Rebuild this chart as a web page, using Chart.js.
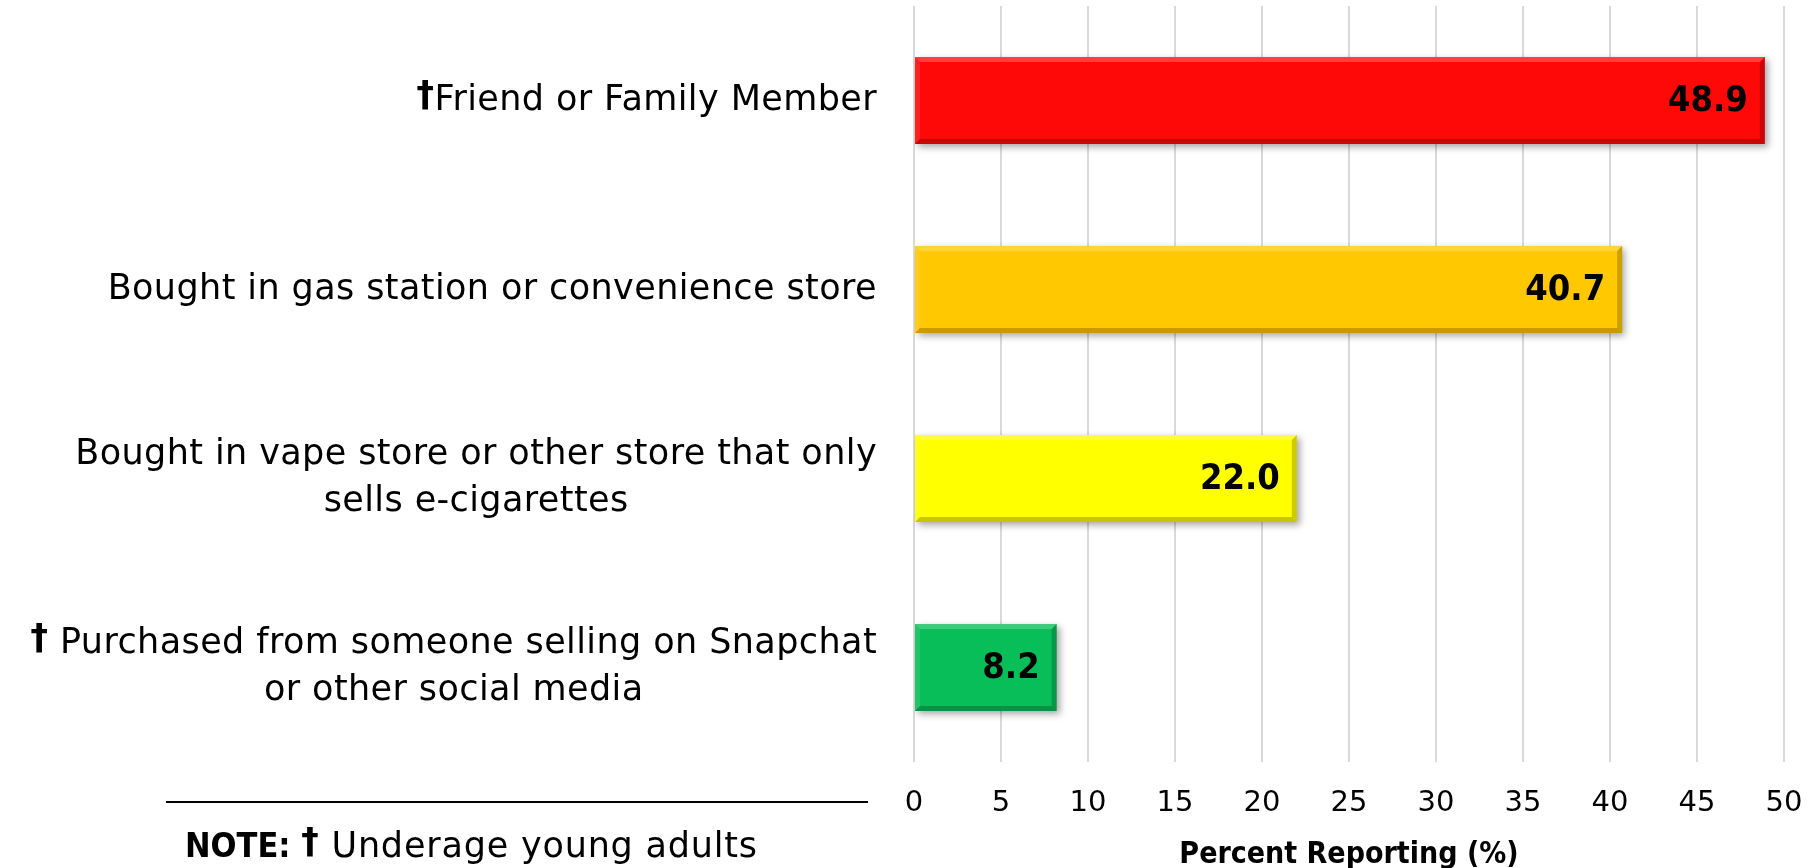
<!DOCTYPE html>
<html>
<head>
<meta charset="utf-8">
<title>Where e-cigarettes were obtained</title>
<script src="https://cdn.jsdelivr.net/npm/chart.js@4"></script>
<style>
  html, body { margin: 0; padding: 0; background: #fff; }
  canvas { display: block; }
</style>
</head>
<body>
<canvas id="sourceChart" width="1815" height="868"></canvas>
<script>
// category labels, one array entry per text line
const sourceLabels = [
    ['†Friend or Family Member'],
    ['Bought in gas station or convenience store'],
    ['Bought in vape store or other store that only', 'sells e-cigarettes'],
    ['† Purchased from someone selling on Snapchat', 'or other social media']
];
const percentReporting = [48.9, 40.7, 22.0, 8.2];
const barColors = ['#FF0808', '#FFC800', '#FFFF00', '#08BE58'];
const xTickValues = [0, 5, 10, 15, 20, 25, 30, 35, 40, 45, 50];

const labelFont = '35px "DejaVu Sans", sans-serif';
const boldFamily = '"Liberation Sans Narrow", "DejaVu Sans Condensed", "Liberation Sans", sans-serif';

// drop shadow under the bars
const barShadow = {
    id: 'barShadow',
    beforeDatasetsDraw(chart) {
        const ctx = chart.ctx;
        ctx.save();
        ctx.shadowColor = 'rgba(0,0,0,0.35)';
        ctx.shadowBlur = 7;
        ctx.shadowOffsetX = 3;
        ctx.shadowOffsetY = 3;
    },
    afterDatasetsDraw(chart) {
        chart.ctx.restore();
    }
};

// bevelled edges plus the value printed inside the end of each bar
const barDecor = {
    id: 'barDecor',
    afterDatasetsDraw(chart) {
        const ctx = chart.ctx;
        const meta = chart.getDatasetMeta(0);
        const b = 5;
        ctx.save();
        meta.data.forEach((bar, i) => {
            const l = Math.min(bar.base, bar.x);
            const r = Math.max(bar.base, bar.x);
            const t = bar.y - bar.height / 2;
            const btm = bar.y + bar.height / 2;
            const quad = (pts, fill) => {
                ctx.beginPath();
                ctx.moveTo(pts[0][0], pts[0][1]);
                for (let k = 1; k < pts.length; k++) ctx.lineTo(pts[k][0], pts[k][1]);
                ctx.closePath();
                ctx.fillStyle = fill;
                ctx.fill();
            };
            quad([[l, t], [r, t], [r - b, t + b], [l + b, t + b]], 'rgba(255,255,255,0.22)');
            quad([[l, t], [l + b, t + b], [l + b, btm - b], [l, btm]], 'rgba(255,255,255,0.10)');
            quad([[l, btm], [r, btm], [r - b, btm - b], [l + b, btm - b]], 'rgba(0,0,0,0.22)');
            quad([[r, t], [r, btm], [r - b, btm - b], [r - b, t + b]], 'rgba(0,0,0,0.20)');

            ctx.fillStyle = '#000';
            ctx.font = 'bold 36px ' + boldFamily;
            ctx.textAlign = 'right';
            ctx.textBaseline = 'middle';
            ctx.fillText(percentReporting[i].toFixed(1), r - 17, bar.y + 1);
        });
        ctx.restore();
    }
};

// draws one line of text, with a leading dagger set in bold
function drawLine(ctx, s, x, y, font) {
    if (s[0] !== '†') {
        ctx.fillText(s, x, y);
        return;
    }
    const rest = s.slice(1);
    ctx.font = 'bold ' + font;
    const dw = ctx.measureText('†').width;
    ctx.font = font;
    const rw = ctx.measureText(rest).width;
    const startX = ctx.textAlign === 'center' ? x - (dw + rw) / 2 : x;
    const align = ctx.textAlign;
    ctx.textAlign = 'left';
    ctx.font = 'bold ' + font;
    ctx.fillText('†', startX, y - 4);
    ctx.font = font;
    ctx.fillText(rest, startX + dw, y);
    ctx.textAlign = align;
}

// category text on the left: each label block sits against the plot,
// its lines centred on the widest one
const categoryText = {
    id: 'categoryText',
    afterDraw(chart) {
        const ctx = chart.ctx;
        const yScale = chart.scales.y;
        const edge = chart.chartArea.left - 37;
        const lineH = 47;
        ctx.save();
        ctx.font = labelFont;
        ctx.letterSpacing = '0.4px';
        ctx.fillStyle = '#000';
        ctx.textAlign = 'center';
        ctx.textBaseline = 'middle';
        sourceLabels.forEach((lines, i) => {
            const cy = yScale.getPixelForValue(i);
            const w = Math.max(...lines.map(s => ctx.measureText(s).width));
            const cx = edge - w / 2;
            const y0 = cy - (lines.length - 1) * lineH / 2;
            lines.forEach((s, k) => drawLine(ctx, s, cx, y0 + k * lineH, labelFont));
        });

        // footnote below the labels
        const area = chart.chartArea;
        ctx.strokeStyle = '#000';
        ctx.lineWidth = 2;
        ctx.beginPath();
        ctx.moveTo(166, area.bottom + 40);
        ctx.lineTo(868, area.bottom + 40);
        ctx.stroke();

        const ny = area.bottom + 86;
        ctx.textAlign = 'left';
        ctx.letterSpacing = '0px';
        ctx.font = 'bold 34px ' + boldFamily;
        ctx.fillText('NOTE:', 185, ny);
        const nw = ctx.measureText('NOTE: ').width;
        ctx.letterSpacing = '0.8px';
        drawLine(ctx, '† Underage young adults', 185 + nw, ny, '35px "DejaVu Sans", sans-serif');
        ctx.restore();
    }
};

new Chart(document.getElementById('sourceChart'), {
    type: 'bar',
    data: {
        labels: sourceLabels,
        datasets: [{
            data: percentReporting,
            backgroundColor: barColors,
            borderWidth: 0,
            barPercentage: 0.46,
            categoryPercentage: 1
        }]
    },
    options: {
        indexAxis: 'y',
        responsive: false,
        animation: false,
        layout: { padding: { left: 914, right: 31, top: 6, bottom: 0 } },
        plugins: {
            legend: { display: false },
            tooltip: { enabled: false }
        },
        scales: {
            x: {
                min: 0,
                max: 50,
                afterBuildTicks: axis => { axis.ticks = xTickValues.map(v => ({ value: v })); },
                afterFit: axis => {
                    axis.height = 106;
                    // end labels fit inside the layout padding already
                    axis.paddingLeft = 0;
                    axis.paddingRight = 0;
                },
                grid: { color: '#D9D9D9', lineWidth: 2, drawTicks: false },
                border: { display: false },
                ticks: {
                    padding: 24,
                    color: '#000',
                    font: { family: '"DejaVu Sans", sans-serif', size: 29 }
                },
                title: {
                    display: true,
                    text: 'Percent Reporting (%)',
                    color: '#000',
                    font: { family: boldFamily, size: 30, weight: 'bold', lineHeight: 1 },
                    padding: { top: 4, bottom: -2 }
                }
            },
            y: {
                display: false
            }
        }
    },
    plugins: [barShadow, barDecor, categoryText]
});
</script>
</body>
</html>
